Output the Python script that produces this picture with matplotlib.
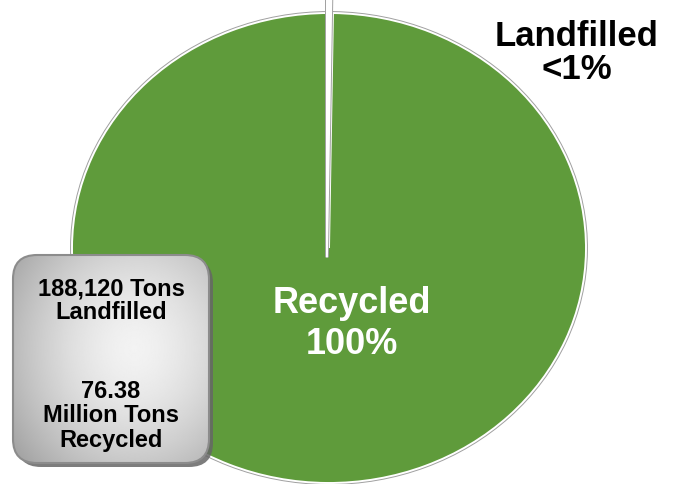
import matplotlib
matplotlib.use("Agg")
import matplotlib.pyplot as plt
import matplotlib.patheffects as pe
from matplotlib.patches import FancyBboxPatch
import numpy as np

# tonnage split
labels = ["Landfilled", "Recycled"]
tons = [188120, 76.38e6]
colors = ["white", "#5f9b3b"]

plt.rcParams['font.family'] = ['Liberation Sans', 'DejaVu Sans']

fig = plt.figure(figsize=(6.76, 4.85), dpi=100)

# pie axes: ellipse centre ~(329, 249) px, half axes 257 x 235 px
ax = fig.add_axes([0, 0, 1, 1])
cx, cy, rx, ry = 329, 249, 257, 235

wedges, _ = ax.pie(tons, colors=colors, startangle=90, counterclock=False,
                   wedgeprops=dict(edgecolor='white', linewidth=1.4))
for w in wedges:
    w.set_path_effects([pe.Stroke(linewidth=2.8, foreground='#a0a0a0'), pe.Normal()])
# pull the thin landfilled slice out past the rim
wedges[0].set_center((-0.008, -0.04))
wedges[0].set_radius(1.2)
wedges[0].set_zorder(3)

ax.set_aspect('auto')
ax.set_xlim(-cx / rx, (676 - cx) / rx)
ax.set_ylim((cy - 485) / ry, cy / ry)
ax.axis('off')

pct = [100 * t / sum(tons) for t in tons]

# overlay in pixel coordinates for labels and the summary box
ov = fig.add_axes([0, 0, 1, 1])
ov.axis('off')
ov.patch.set_alpha(0)

ov.text(352, 324, f"{labels[1]}\n{pct[1]:.0f}%", color='white', fontsize=26,
        fontweight='bold', ha='center', va='center', linespacing=1.2)
lf = "<1%" if pct[0] < 1 else f"{pct[0]:.0f}%"
ov.text(577, 53, f"{labels[0]}\n{lf}", color='black', fontsize=25,
        fontweight='bold', ha='center', va='center', linespacing=1.0)

# summary box with shadow and radial gray gradient
bx, by, bw, bh = 13, 256, 196, 208
shadow = FancyBboxPatch((bx + 4, by + 4), bw, bh,
                        boxstyle="round,pad=0,rounding_size=24",
                        fc='#666666', ec='none', alpha=0.85)
ov.add_patch(shadow)
box = FancyBboxPatch((bx, by), bw, bh, boxstyle="round,pad=0,rounding_size=24",
                     fc='none', ec='#8c8c8c', lw=1.5, zorder=3)
ov.add_patch(box)

gx, gy = np.meshgrid(np.linspace(0, 1, 200), np.linspace(0, 1, 200))
d = np.sqrt(((gx - 0.62) / 0.75) ** 2 + ((gy - 0.45) / 0.8) ** 2)
shade = np.clip(0.95 - 0.30 * d ** 1.6, 0.62, 0.95)
img = ov.imshow(shade, cmap='gray', vmin=0, vmax=1,
                extent=(bx, bx + bw, by + bh, by), zorder=2, aspect='auto')
img.set_clip_path(box)

ov.text(bx + bw / 2, 301, "188,120 Tons\nLandfilled", fontsize=17,
        fontweight='bold', ha='center', va='center', linespacing=1.05, zorder=4)
ov.text(bx + bw / 2, 416, "76.38\nMillion Tons\nRecycled", fontsize=17,
        fontweight='bold', ha='center', va='center', linespacing=1.1, zorder=4)
ov.set_xlim(0, 676)
ov.set_ylim(485, 0)

fig.savefig("out.png", dpi=100)
